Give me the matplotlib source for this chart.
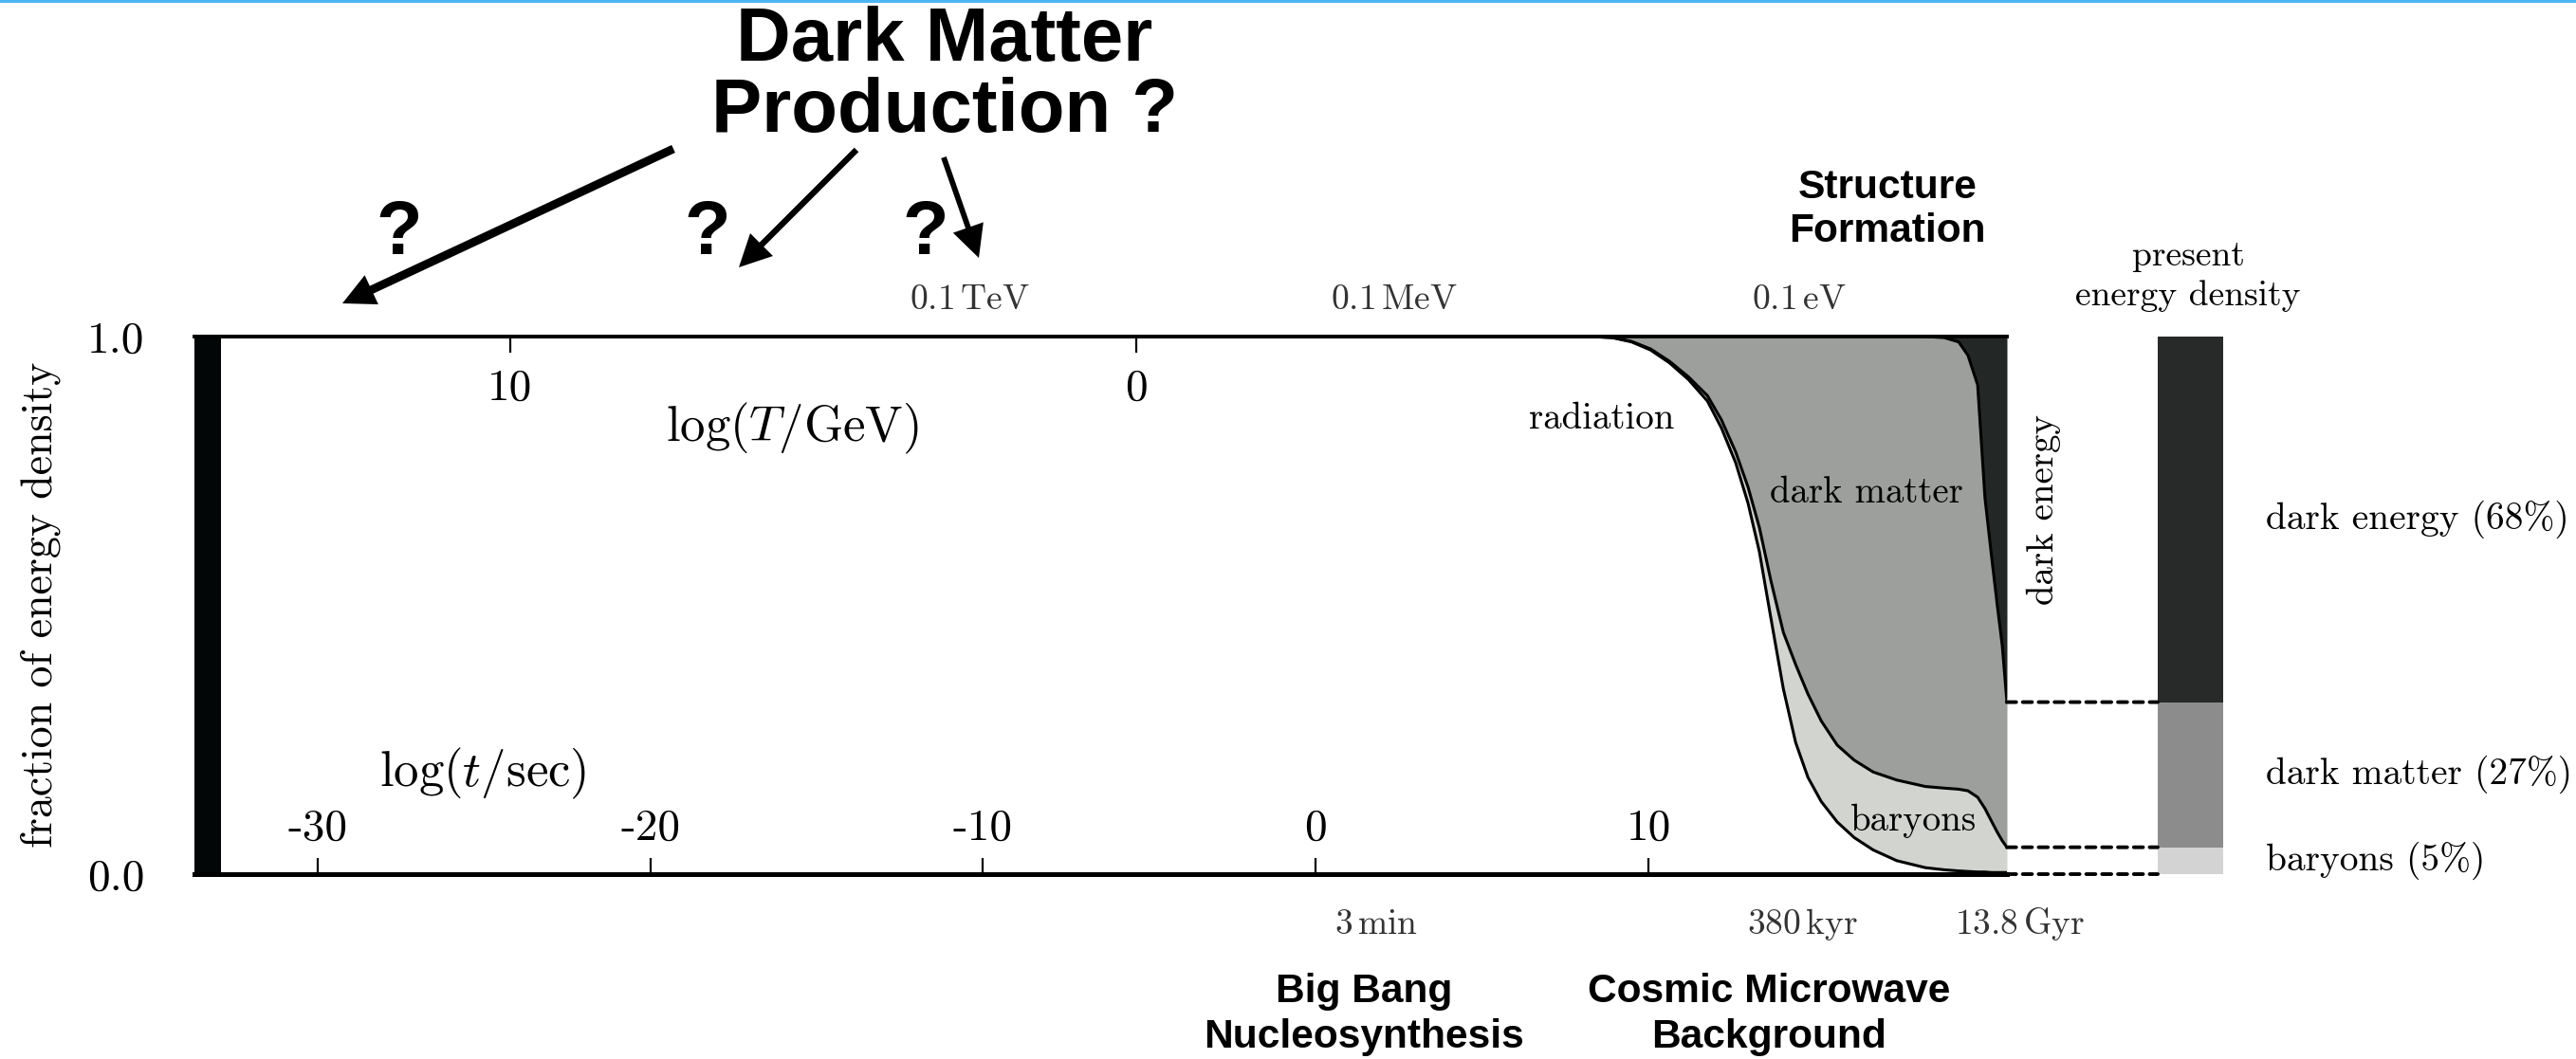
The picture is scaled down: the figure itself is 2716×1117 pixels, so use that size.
import numpy as np
import matplotlib.pyplot as plt
from matplotlib.patches import ConnectionPatch, Rectangle
from matplotlib.transforms import blended_transform_factory as blend

plt.rcParams['font.family'] = 'serif'
plt.rcParams['font.serif'] = ['cmr10']
plt.rcParams['mathtext.fontset'] = 'cm'
plt.rcParams['axes.unicode_minus'] = False
plt.rcParams['axes.formatter.use_mathtext'] = True

# cosmic time, log10(t / sec)
log_t = [-33.7, 6.07, 7.49, 8.26, 8.92, 9.49, 10.06, 10.63, 11.20, 11.77,
         12.19, 12.62, 12.99, 13.33, 13.68, 14.05, 14.42, 14.79, 15.19, 15.67,
         16.18, 16.75, 17.46, 18.32, 18.89, 19.32, 19.60, 19.89, 20.11, 20.31,
         20.48, 20.63, 20.77]
# stacked energy fractions: upper edge of radiation, of radiation + baryons
# and of all matter (dark energy fills the rest up to 1)
radiation_top = [1.0, 1.0, 1.0, 1.0, 0.998, 0.990, 0.975, 0.951, 0.920, 0.880,
                 0.830, 0.765, 0.690, 0.600, 0.475, 0.345, 0.245, 0.180, 0.135, 0.097,
                 0.068, 0.045, 0.025, 0.012, 0.008, 0.006, 0.005, 0.004, 0.004, 0.003,
                 0.003, 0.003, 0.003]
baryon_top = [1.0, 1.0, 1.0, 1.0, 0.998, 0.991, 0.977, 0.954, 0.925, 0.890,
              0.845, 0.785, 0.720, 0.645, 0.545, 0.450, 0.390, 0.335, 0.285, 0.240,
              0.212, 0.190, 0.175, 0.163, 0.160, 0.158, 0.155, 0.143, 0.122, 0.098,
              0.078, 0.062, 0.050]
matter_top = [1.0, 1.0, 1.0, 1.0, 1.0, 1.0, 1.0, 1.0, 1.0, 1.0,
              1.0, 1.0, 1.0, 1.0, 1.0, 1.0, 1.0, 1.0, 1.0, 1.0,
              1.0, 1.0, 1.0, 1.0, 0.998, 0.990, 0.965, 0.910, 0.700, 0.590,
              0.500, 0.425, 0.320]

# energy budget today, in percent
present_names = ['baryons', 'dark matter', 'dark energy']
present_share = [5, 27, 68]

t_ticks = [-30, -20, -10, 0, 10]
T_ticks = [10, 0]
# log(T/GeV) = T_OFFSET + T_SLOPE * log(t/sec)
T_OFFSET, T_SLOPE = -2.86, -0.531
early_edge = -32.9

top_marks = [r'$0.1\,\mathrm{TeV}$', r'$0.1\,\mathrm{MeV}$', r'$0.1\,\mathrm{eV}$']
top_marks_t = [-10.4, 2.34, 14.53]
bottom_marks = [r'$3\,\mathrm{min}$', r'$380\,\mathrm{kyr}$', r'$13.8\,\mathrm{Gyr}$']
bottom_marks_t = [1.82, 14.64, 21.14]

c_dark_energy = '#232726'
c_dark_matter = '#9c9f9b'
c_baryons = '#d2d4d0'
bar_colors = ['#d3d3d3', '#8b8c8b', '#282a29']

W, H = 2716, 1117


def at(x, y):
    return x / W, 1 - y / H


def t_to_T(t):
    return T_OFFSET + T_SLOPE * np.asarray(t)


def T_to_t(T):
    return (np.asarray(T) - T_OFFSET) / T_SLOPE


fig = plt.figure(figsize=(W / 200, H / 200), dpi=200)
fig.add_artist(Rectangle((0, 1 - 3 / H), 1, 3 / H, transform=fig.transFigure,
                         color='#4db6f2', lw=0))

ax = fig.add_axes([205 / W, 1 - 922 / H, (2116 - 205) / W, (922 - 355) / H])
ax.fill_between(log_t, radiation_top, baryon_top, color=c_baryons, lw=0)
ax.fill_between(log_t, baryon_top, matter_top, color=c_dark_matter, lw=0)
ax.fill_between(log_t, matter_top, 1, color=c_dark_energy, lw=0)
for edge in (radiation_top, baryon_top, matter_top):
    ax.plot(log_t, edge, color='k', lw=1.1)
ax.axvspan(log_t[0], early_edge, color='#020606', lw=0)
ax.set_xlim(log_t[0], log_t[-1])
ax.set_ylim(0, 1)

for s in ('left', 'right'):
    ax.spines[s].set_visible(False)
ax.spines['top'].set_linewidth(1.3)
ax.spines['bottom'].set_linewidth(1.8)

ax.set_xticks(t_ticks)
ax.tick_params(axis='x', direction='in', length=6, width=0.8, labelbottom=False)
ax.set_yticks([0, 1], ['0.0', '1.0'])
ax.tick_params(axis='y', length=0, pad=19, labelsize=17)

secax = ax.secondary_xaxis('top', functions=(t_to_T, T_to_t))
secax.set_xticks(T_ticks)
secax.tick_params(direction='in', length=6, width=0.8, labeltop=False)
secax.spines['top'].set_linewidth(1.3)

xa = blend(ax.transData, ax.transAxes)
for v in t_ticks:
    ax.text(v, 0.064, str(v), transform=xa, ha='center', va='baseline', fontsize=17)
for v in T_ticks:
    ax.text(T_to_t(v), 0.882, str(v), transform=xa, ha='center', va='baseline', fontsize=17)
ax.text(0.33, 0.829, r'$\log(T/\mathrm{GeV})$', transform=ax.transAxes,
        ha='center', va='center', fontsize=19)
ax.text(0.159, 0.187, r'$\log(t/\mathrm{sec})$', transform=ax.transAxes,
        ha='center', va='center', fontsize=19)

for lab, t in zip(top_marks, top_marks_t):
    ax.text(t, 1.051, lab, transform=xa, ha='center', va='baseline',
            fontsize=13.5, color='#333333', clip_on=False)
for lab, t in zip(bottom_marks, bottom_marks_t):
    ax.text(t, -0.111, lab, transform=xa, ha='center', va='baseline',
            fontsize=13.5, color='#333333', clip_on=False)

# region names
fig.text(*at(1689, 442), 'radiation', ha='center', va='center', fontsize=14)
fig.text(*at(1968, 520), 'dark matter', ha='center', va='center', fontsize=14)
fig.text(*at(2018, 866), 'baryons', ha='center', va='center', fontsize=14)
fig.text(*at(2155, 537), 'dark energy', rotation=90, ha='center', va='center', fontsize=14)
fig.text(*at(43, 638), 'fraction of energy density', rotation=90,
         ha='center', va='center', fontsize=16.5)

# today's budget as a stacked bar
bar_ax = fig.add_axes([2275 / W, 1 - 922 / H, 69 / W, (922 - 355) / H])
shares = np.array(present_share) / 100
bottoms = np.concatenate([[0], np.cumsum(shares)[:-1]])
bar_ax.bar(0, shares, bottom=bottoms, width=1, color=bar_colors, lw=0)
bar_ax.set_xlim(-0.5, 0.5)
bar_ax.set_ylim(0, 1)
bar_ax.axis('off')
ya = blend(bar_ax.transAxes, bar_ax.transData)
for name, share, b in zip(present_names, present_share, bottoms):
    bar_ax.text(1.65, b + share / 200, f'{name} ({share}%)', transform=ya,
                ha='left', va='center', fontsize=14.2)
for b in bottoms:
    con = ConnectionPatch(xyA=(log_t[-1], b), coordsA=ax.transData,
                          xyB=(-0.5, b), coordsB=bar_ax.transData,
                          color='k', lw=1.4, linestyle=(0, (2.5, 1.8)))
    fig.add_artist(con)
fig.text(*at(2307, 322), 'present\nenergy density', ha='center', va='baseline',
         multialignment='center', linespacing=1.29, fontsize=13.5)

# epoch headings (multi-line text is anchored at the baseline of its last line)
bold = dict(family='Liberation Sans', weight='bold', ha='center', va='baseline',
            multialignment='center')
fig.text(*at(996, 139), 'Dark Matter\nProduction ?', fontsize=28.7,
         linespacing=1.0, **bold)
for qx in (421, 746, 976):
    fig.text(*at(qx, 268), '?', fontsize=28.7, **bold)
fig.text(*at(1990, 255), 'Structure\nFormation', fontsize=15.3, linespacing=1.2, **bold)
fig.text(*at(1438, 1105), 'Big Bang\nNucleosynthesis', fontsize=15.3,
         linespacing=1.26, **bold)
fig.text(*at(1865, 1105), 'Cosmic Microwave\nBackground', fontsize=15.3,
         linespacing=1.26, **bold)

arrow_tails = [(710, 157), (903, 158), (995, 166)]
arrow_tips = [(361, 320), (779, 282), (1032, 272)]
arrow_widths = [3.2, 2.3, 2.1]
for tail, tip, w in zip(arrow_tails, arrow_tips, arrow_widths):
    ax.annotate('', xy=at(*tip), xytext=at(*tail),
                xycoords='figure fraction', textcoords='figure fraction',
                annotation_clip=False,
                arrowprops=dict(width=w, headwidth=12.2, headlength=12.2,
                                shrink=0, facecolor='k', edgecolor='none'))

fig.savefig('out.png', dpi=200)
